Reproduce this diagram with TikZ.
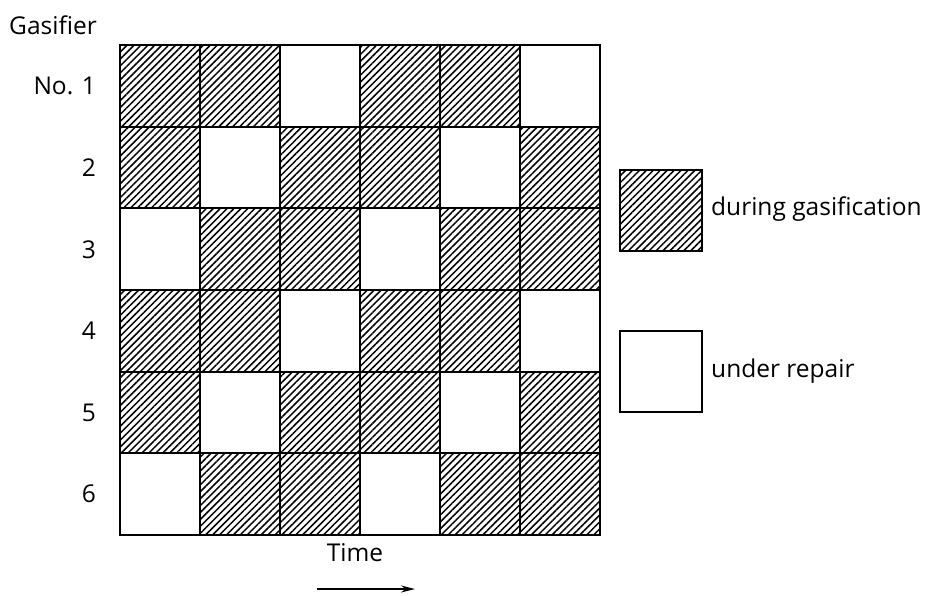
\documentclass[tikz,border=0pt]{standalone}
\usepackage{fontspec}
\setmainfont{Open Sans}
\usetikzlibrary{patterns.meta,arrows.meta}
\begin{document}
\begin{tikzpicture}[x=1pt,y=-1pt,
  lab/.style={font=\fontsize{24.5}{28}\selectfont, inner sep=0pt},
  hatchcell/.style={draw=black, line width=1.8pt,
    pattern={Lines[angle=45,distance=4.9pt,line width=1.5pt]}},
  whitecell/.style={draw=black, line width=1.8pt, fill=white}]
\useasboundingbox (0,0) rectangle (932,595);
% grid
\foreach \r/\pat in {0/{1,1,0,1,1,0},1/{1,0,1,1,0,1},2/{0,1,1,0,1,1},
                     3/{1,1,0,1,1,0},4/{1,0,1,1,0,1},5/{0,1,1,0,1,1}}{
  \foreach \c [count=\i from 0] in \pat {
    \pgfmathsetmacro\xa{120+80*\i}
    \pgfmathsetmacro\ya{45+81.67*\r}
    \ifnum\c=1
      \draw[hatchcell] (\xa,\ya) rectangle ++(80,81.67);
    \else
      \draw[whitecell] (\xa,\ya) rectangle ++(80,81.67);
    \fi
  }
}
% row labels
\node[lab, anchor=west] (gas) at (9,25) {Gasifier};
\node[lab, anchor=east] (r1) at (96,86) {No. 1};
\node[lab, anchor=east] (r2) at (96,168) {2};
\node[lab, anchor=east] (r3) at (96,250) {3};
\node[lab, anchor=east] (r4) at (96,331) {4};
\node[lab, anchor=east] (r5) at (96,413) {5};
\node[lab, anchor=east] (r6) at (96,494) {6};
% legend
\draw[hatchcell] (620,170) rectangle (702,251);
\draw[whitecell] (620,331) rectangle (702,412);
\node[lab, anchor=west] (lg1) at (711,209) {during gasification};
\node[lab, anchor=west] (lg2) at (711,371) {under repair};
% time axis
\node[lab] (time) at (355,553) {Time};
\coordinate (ta) at (317,589);
\coordinate (tb) at (415,589);
\draw[line width=1.4pt, -{Stealth[length=14pt,width=7pt]}] (ta) -- (tb);
\end{tikzpicture}
\end{document}
